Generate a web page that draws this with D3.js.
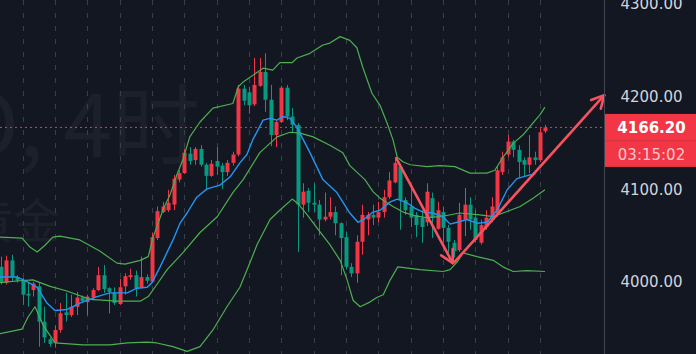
<!DOCTYPE html>
<html><head><meta charset="utf-8">
<script src="https://cdn.jsdelivr.net/npm/d3@7"></script>
<style>html,body{margin:0;padding:0;background:#131722;overflow:hidden}</style>
</head><body><svg id="c" width="696" height="354"></svg>
<script>
// ---- data (4H candles, prices) ----
const opens = [4016,3999,4023,4005,4002,3987,3991,3995,3957,3938,
3934,3948,3967,3964,3973,3983,3978,3983,3991,4007,
3993,3988,3976,3995,4005,4007,3994,4005,4000,4047,
4075,4077,4083,4110,4117,4138,4131,4143,4126,4114,
4130,4125,4118,4128,4137,4208,4204,4191,4211,4226,
4196,4158,4172,4209,4178,4169,4083,4098,4085,4083,
4067,4070,4075,4063,4048,4016,4009,4043,4067,4072,
4069,4075,4091,4107,4124,4088,4081,4072,4069,4064,
4090,4057,4075,4058,4042,4034,4067,4083,4069,4042,
4059,4067,4074,4118,4137,4151,4142,4131,4126,4134,
4131,4162];
const highs = [4027,4028,4029,4007,4004,3999,4000,3999,3973,3940,
3953,3977,3988,3986,3989,3985,3986,3993,4016,4018,
3994,3994,4003,4009,4014,4012,4027,4008,4053,4081,
4086,4099,4115,4120,4143,4145,4145,4147,4128,4131,
4145,4128,4131,4140,4212,4212,4210,4241,4241,4246,
4212,4174,4211,4212,4187,4171,4106,4101,4106,4088,
4096,4091,4081,4064,4054,4020,4050,4083,4075,4083,
4086,4099,4118,4133,4126,4091,4102,4075,4077,4106,
4096,4086,4081,4061,4045,4085,4101,4091,4077,4067,
4077,4091,4124,4140,4158,4153,4147,4134,4158,4140,
4166,4169];
const lows = [3997,3997,4000,3999,3975,3973,3984,3930,3934,3930,
3929,3945,3957,3962,3964,3978,3964,3980,3990,3988,
3966,3975,3975,3986,4002,3984,3993,3998,3999,4045,
4074,4075,4077,4107,4116,4126,4126,4124,4099,4113,
4115,4100,4114,4125,4135,4190,4181,4189,4210,4183,
4146,4145,4171,4174,4160,4032,4069,4075,4075,4050,
4065,4067,4050,4007,4013,4005,3999,4029,4050,4061,
4064,4069,4089,4106,4056,4072,4059,4048,4042,4060,
4047,4056,4042,4031,4026,4032,4049,4056,4042,4040,
4056,4064,4070,4115,4134,4134,4112,4113,4117,4126,
4129,4160];
const closes = [3999,4023,4005,4001,3986,3985,3998,3957,3940,3933,
3948,3966,3964,3973,3983,3979,3984,3991,4007,3992,
3989,3977,3994,4006,4007,3993,4005,4001,4048,4076,
4081,4085,4111,4117,4139,4130,4143,4126,4114,4127,
4124,4118,4128,4137,4208,4195,4190,4212,4226,4196,
4158,4172,4209,4178,4169,4083,4097,4085,4083,4067,
4070,4075,4063,4047,4016,4009,4043,4072,4072,4069,
4075,4091,4109,4128,4088,4077,4069,4061,4059,4097,
4069,4077,4058,4043,4033,4072,4083,4067,4045,4061,
4069,4081,4120,4134,4151,4142,4129,4126,4134,4131,
4161,4166.2];

// Bollinger bands and fast MA, sampled as [bar index, price]
const upperBand = [[-0.2,4048],[3.9,4047],[5.4,4037],[6.7,4032],[8.1,4039],[9.6,4048],[10.9,4049],[14.6,4045],[18.3,4033],[21.5,4020],[23,4019],[25.8,4023],[27.3,4027],[28.2,4048],[30,4077],[31.3,4093],[32.6,4115],[33.7,4131],[35,4156],[36.9,4172],[39.3,4187],[43,4192],[44,4210],[44.9,4215],[48.6,4230],[50.4,4228],[51.7,4236],[54,4236],[54.9,4241],[57.3,4246],[59.7,4255],[61,4257],[62.9,4264],[64.7,4260],[66,4252],[67.1,4231],[68.8,4203],[70.3,4190],[71.6,4171],[72.7,4153],[73.5,4134],[74.6,4129],[75.9,4126],[79,4124],[81.4,4125],[84.2,4124],[87,4117],[90.1,4117],[91.6,4120],[93.1,4134],[95,4149],[96.8,4158],[98.7,4171],[100,4180],[100.9,4188]];
const basisBand = [[-0.2,3999],[3.5,4001],[5.9,4002],[9.1,3995],[12.2,3990],[16.5,3981],[21.5,3979],[25.8,3979],[27.3,3984],[28.9,3997],[30.8,4013],[33.7,4031],[36.9,4053],[40.1,4070],[43,4096],[44.9,4110],[48,4139],[51.2,4156],[53.6,4161],[55.5,4160],[57.9,4156],[61,4147],[63.4,4139],[64.7,4125],[66,4118],[67.5,4110],[69,4097],[70.3,4090],[72.7,4081],[74.6,4075],[76.8,4071],[79,4069],[81.4,4070],[85.1,4074],[88.8,4072],[91.3,4070],[93.1,4074],[96.3,4081],[98.7,4090],[100.9,4099]];
const lowerBand = [[-0.2,3944],[3.9,3949],[5,3962],[6.3,3973],[7.8,3953],[9.1,3942],[10,3934],[15.2,3932],[20.2,3932],[23.4,3934],[27.1,3935],[28.9,3934],[31.9,3930],[34.5,3925],[36.9,3930],[39.3,3948],[41.9,3973],[44.3,3994],[46.2,4021],[47.5,4040],[49.9,4067],[51.7,4077],[54,4089],[55.1,4084],[56.8,4072],[58.6,4058],[61,4040],[62.9,4023],[64.2,4002],[65.3,3980],[66.6,3973],[68.4,3978],[69.7,3983],[70.9,3986],[72.2,4002],[73.6,4016],[77.7,4013],[82,4011],[83.3,4013],[84.6,4021],[85.7,4031],[88.3,4027],[91.3,4023],[93.1,4016],[95,4011],[97.6,4012],[100.9,4011]];
const fastMA = [[-0.2,4005],[3,4005],[4.8,4000],[6.7,3994],[8.5,3977],[10,3969],[12.2,3970],[14.6,3977],[17.8,3984],[20.2,3988],[23.4,3988],[25.2,3993],[27.1,3994],[28,3999],[29.5,4016],[31.9,4045],[33.2,4063],[34.5,4074],[36.3,4091],[38.2,4100],[40.6,4104],[42.5,4113],[44.3,4128],[45.6,4137],[46.7,4153],[48.6,4174],[49.9,4176],[51.2,4174],[52.3,4178],[53.6,4176],[54.9,4166],[57.3,4139],[59.7,4110],[62.3,4096],[64.7,4074],[66.2,4064],[67.5,4068],[69,4075],[70.3,4077],[72.2,4086],[73.5,4089],[75.3,4085],[76.8,4079],[78.3,4075],[80.1,4074],[82,4070],[83.3,4062],[84.6,4064],[86.4,4067],[88.3,4063],[90.2,4064],[92,4077],[93.9,4099],[95.7,4111],[98.1,4115],[99.1,4116]];

// drawn arrows: [bar index, price] start -> end
const arrows = [[[73.3,4133],[83.8,4020]], [[84.1,4021],[111.9,4201]]];

const priceTicks = [4000, 4100, 4200, 4300];
const lastPrice = 4166.2;
const countdown = "03:15:02";
const dayStarts = d3.range(4, 101, 6);
const watermark1 = "XAUUSD, 4时";
const watermark2 = "现货黄金";

// ---- drawing ----
const W = 696, H = 354, axisX = 604;
const svg = d3.select('#c');
svg.append('rect').attr('width', W).attr('height', H).attr('fill', '#131722');

const x = d3.scaleLinear().domain([0, 101]).range([1.1, 1.1 + 101 * 5.39]);
const y = d3.scaleLinear().domain([4000, 4300]).range([281.7, 3.2]);

svg.append('defs').append('clipPath').attr('id', 'pane')
  .append('rect').attr('x', 0).attr('y', 0).attr('width', axisX).attr('height', H);
const pane = svg.append('g').attr('clip-path', 'url(#pane)');

// watermark
pane.append('text').attr('x', 200).attr('y', 157).attr('text-anchor', 'end')
  .attr('fill', '#1c202b').style('font-family', '"Noto Sans CJK SC", "Noto Sans", sans-serif')
  .style('font-size', '88px').text(watermark1);
pane.append('text').attr('x', 60).attr('y', 238).attr('text-anchor', 'end')
  .attr('fill', '#1c202b').style('font-family', '"Noto Sans CJK SC", sans-serif')
  .style('font-size', '47px').text(watermark2);

// vertical day grid
pane.append('g').selectAll('line').data(dayStarts).join('line')
  .attr('x1', d => Math.round(x(d)) + 0.5).attr('x2', d => Math.round(x(d)) + 0.5)
  .attr('y1', 0).attr('y2', H)
  .attr('stroke', '#3a3e4a').attr('stroke-width', 1).attr('stroke-dasharray', '5,8');

// candles
const bars = d3.range(opens.length);
const up = i => closes[i] >= opens[i];
const cg = pane.append('g');
cg.selectAll('line').data(bars).join('line')
  .attr('x1', i => Math.round(x(i)) + 0.5).attr('x2', i => Math.round(x(i)) + 0.5)
  .attr('y1', i => y(highs[i])).attr('y2', i => y(lows[i]))
  .attr('stroke', i => up(i) ? '#f23645' : '#089981').attr('stroke-width', 1);
cg.selectAll('rect').data(bars).join('rect')
  .attr('x', i => Math.round(x(i)) - 1.5).attr('width', 4)
  .attr('y', i => y(Math.max(opens[i], closes[i])))
  .attr('height', i => Math.max(1, Math.abs(y(opens[i]) - y(closes[i]))))
  .attr('fill', i => up(i) ? '#f23645' : '#089981');

// indicator lines
const line = d3.line().x(d => x(d[0])).y(d => y(d[1]));
[[upperBand, '#4caf50', 1.2], [basisBand, '#4caf50', 1.2], [lowerBand, '#4caf50', 1.2], [fastMA, '#2196f3', 1.4]]
  .forEach(([data, col, w]) => {
    pane.append('path').datum(data).attr('d', line).attr('fill', 'none')
      .attr('stroke', col).attr('stroke-width', w).attr('stroke-linejoin', 'round');
  });

// last price line
pane.append('line').attr('x1', 0).attr('x2', axisX).attr('y1', y(lastPrice)).attr('y2', y(lastPrice))
  .attr('stroke', '#f23645').attr('stroke-width', 1).attr('stroke-dasharray', '2,3');

// arrows
const arrowCol = '#f7525f';
const ag = svg.append('g');
arrows.forEach(([s, e]) => {
  const x1 = x(s[0]), y1 = y(s[1]), x2 = x(e[0]), y2 = y(e[1]);
  ag.append('line').attr('x1', x1).attr('y1', y1).attr('x2', x2).attr('y2', y2)
    .attr('stroke', arrowCol).attr('stroke-width', 2.6).attr('stroke-linecap', 'round');
  const ang = Math.atan2(y2 - y1, x2 - x1), L = 14, a = Math.PI / 6.5;
  const p1 = [x2 - L * Math.cos(ang - a), y2 - L * Math.sin(ang - a)];
  const p2 = [x2 - L * Math.cos(ang + a), y2 - L * Math.sin(ang + a)];
  ag.append('path').attr('d', `M${p1}L${x2},${y2}L${p2}`).attr('fill', 'none')
    .attr('stroke', arrowCol).attr('stroke-width', 2.6).attr('stroke-linecap', 'round').attr('stroke-linejoin', 'round');
});

// price axis
svg.append('line').attr('x1', axisX + 0.5).attr('x2', axisX + 0.5).attr('y1', 0).attr('y2', H)
  .attr('stroke', '#434651').attr('stroke-width', 1);
const axis = svg.append('g').attr('transform', `translate(${axisX},0)`)
  .call(d3.axisRight(y).tickValues(priceTicks).tickFormat(d3.format('.2f')).tickSize(0).tickPadding(0));
axis.select('.domain').remove();
axis.selectAll('text').attr('x', 47.5).attr('text-anchor', 'middle').attr('dy', '0.35em')
  .attr('fill', '#d1d4dc').style('font-family', '"DejaVu Sans", sans-serif').style('font-size', '15px');

// last price label
const ly = y(lastPrice);
svg.append('rect').attr('x', axisX + 1).attr('y', ly - 13.5).attr('width', W - axisX - 1).attr('height', 53)
  .attr('fill', '#f23645');
svg.append('line').attr('x1', axisX + 1).attr('x2', W).attr('y1', ly + 13.2).attr('y2', ly + 13.2)
  .attr('stroke', '#d8303e').attr('stroke-width', 1);
svg.append('text').attr('x', 651.5).attr('y', ly).attr('dy', '0.36em').attr('text-anchor', 'middle')
  .attr('fill', '#ffffff').style('font-family', '"DejaVu Sans", sans-serif').style('font-size', '15px')
  .style('font-weight', 'bold').text(d3.format('.2f')(lastPrice));
svg.append('text').attr('x', 651.5).attr('y', ly + 27).attr('dy', '0.36em').attr('text-anchor', 'middle')
  .attr('fill', '#fcc6cc').style('font-family', '"DejaVu Sans", sans-serif').style('font-size', '15px')
  .text(countdown);
</script></body></html>
